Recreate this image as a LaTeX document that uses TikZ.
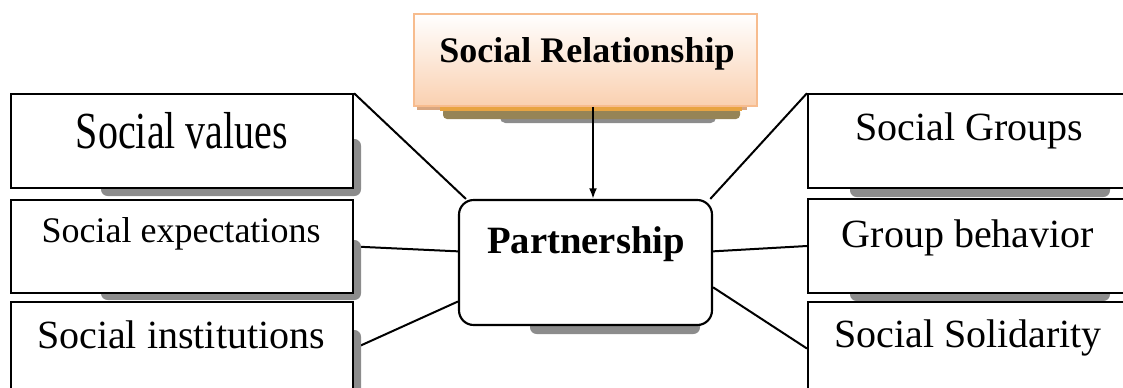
\documentclass[tikz,border=0pt]{standalone}
\usepackage{fontspec}
\setmainfont{Liberation Serif}
\usetikzlibrary{arrows.meta,backgrounds}
\definecolor{shadowgray}{RGB}{140,140,140}
\definecolor{peach}{RGB}{250,208,176}
\definecolor{peachline}{RGB}{247,188,142}
\definecolor{tanstrip}{RGB}{216,166,128}
\definecolor{goldstrip}{RGB}{232,164,66}
\definecolor{olivestrip}{RGB}{150,132,86}
\tikzset{every picture/.style={line width=0.75pt}}
\tikzset{
  sbox/.style={draw, line width=1.6pt, fill=white, inner sep=0pt},
  sidebox/.style={sbox, minimum width=256.5pt, minimum height=70pt},
  rightbox/.style={sbox, minimum width=241.5pt, minimum height=70pt},
  boxtext/.style={anchor=base, inner sep=0.75pt, font=\fontsize{30}{34}\selectfont},
  link/.style={line width=1.5pt},
}

\begin{document}
\begin{tikzpicture}[x=0.75pt,y=0.75pt,yscale=-1,xscale=1]
\useasboundingbox (0,0) rectangle (1123,387);

%Shape: shadows behind the boxes
\fill[shadowgray, rounded corners=5pt] (101,139) rectangle (361,196) ;
\fill[shadowgray, rounded corners=5pt] (101,240) rectangle (361,300) ;
\fill[shadowgray, rounded corners=5pt] (101,330) rectangle (361,400) ;
\fill[shadowgray, rounded corners=5pt] (850,150) rectangle (1110,197) ;
\fill[shadowgray, rounded corners=5pt] (850,250) rectangle (1110,301) ;
\fill[shadowgray, rounded corners=5pt] (530,300) rectangle (700,334) ;
%Shape: shadow under the title box
\fill[shadowgray, rounded corners=4pt] (500,112) rectangle (716,123) ;
\fill[olivestrip, rounded corners=3pt] (443,108) rectangle (740,119) ;
\fill[tanstrip] (417,104) rectangle (747,110) ;
\fill[goldstrip] (440,106) rectangle (742,111) ;

%Shape: Rectangle [title]
\node[draw=peachline, line width=1.2pt, top color=white, bottom color=peach,
  minimum width=257pt, minimum height=69pt, inner sep=0pt] (rel) at (585.5,60) {};
%Shape: Rounded Rectangle [centre]
\node[sbox, rounded corners=11pt, minimum width=189.75pt, minimum height=93.75pt] (part) at (585.5,262.5) {};
%Shape: Rectangle [left column]
\node[sidebox] (val) at (182,141) {};
\node[sidebox] (exp) at (182,246.5) {};
\node[sidebox] (inst) at (182,348.5) {};
%Shape: Rectangle [right column]
\node[rightbox] (grp) at (969,141) {};
\node[rightbox] (beh) at (969,246) {};
\node[rightbox] (sol) at (969,348.5) {};

% Text Node
\node[anchor=base, inner sep=0.75pt, font=\fontsize{27}{30}\selectfont\bfseries] (reltxt) at (587,62) {Social Relationship};
% Text Node
\node[anchor=base, inner sep=0.75pt, font=\fontsize{29}{32}\selectfont\bfseries] (parttxt) at (586,253) {Partnership};
% Text Node
\node[boxtext] (valtxt) at (182,148) {\scalebox{1}[1.3]{Social values}};
% Text Node
\node[boxtext, font=\fontsize{27}{30}\selectfont] (exptxt) at (181,242) {Social expectations};
% Text Node
\node[boxtext] (insttxt) at (181,348) {Social institutions};
% Text Node
\node[boxtext] (grptxt) at (969,140) {Social Groups};
% Text Node
\node[boxtext] (behtxt) at (968,247) {Group behavior};
% Text Node
\node[boxtext] (soltxt) at (968,347) {Social Solidarity};

% connectors
\coordinate (ax) at (593,0);
\draw[link, -{Latex[length=8pt,width=6pt]}] (rel.south -| ax) -- (part.north -| ax) ;
\begin{scope}[on background layer]
\draw[link] (val.north east) -- (part.152) ;
\draw[link] (exp.east) -- (part.175) ;
\draw[link] (inst.east) -- (part.197) ;
\draw[link] (grp.north west) -- (part.27) ;
\draw[link] (beh.west) -- (part.5) ;
\draw[link] (sol.west) -- (part.-11) ;
\end{scope}

\end{tikzpicture}
\end{document}
